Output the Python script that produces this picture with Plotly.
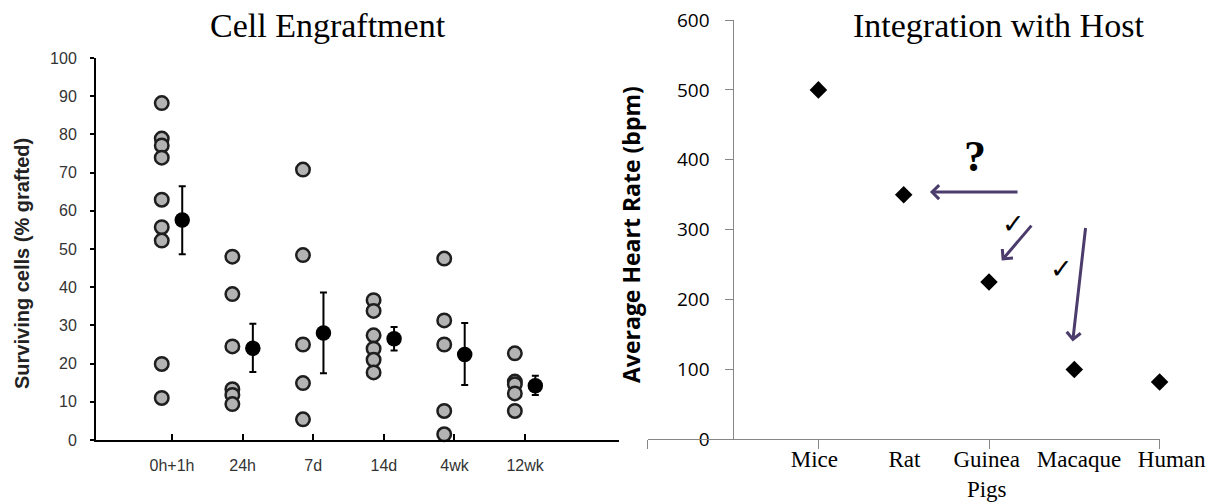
import plotly.graph_objects as go

W, H = 1214, 502

# ---------------- Left panel data: Cell Engraftment ----------------
timepoints = ["0h+1h", "24h", "7d", "14d", "4wk", "12wk"]
surv_0h1h = [88.2, 78.9, 77.1, 73.9, 62.9, 55.7, 52.2, 19.9, 11.0]
surv_24h = [48.0, 38.2, 24.5, 13.3, 11.8, 9.4]
surv_7d = [70.8, 48.4, 25.0, 14.9, 5.4]
surv_14d = [36.6, 33.8, 27.4, 23.9, 21.0, 17.7]
surv_4wk = [47.5, 31.3, 25.0, 7.6, 1.5]
surv_12wk = [22.7, 15.3, 14.6, 12.2, 7.6]
mean_surv = [57.6, 24.0, 28.0, 26.5, 22.4, 14.2]
err_plus = [8.8, 6.4, 10.6, 3.1, 8.2, 2.6]
err_minus = [9.0, 6.2, 10.5, 3.1, 8.0, 2.4]
y_ticks_left = [0, 10, 20, 30, 40, 50, 60, 70, 80, 90, 100]

# ---------------- Right panel data: Integration with Host ----------------
species = ["Mice", "Rat", "Guinea<br>Pigs", "Macaque", "Human"]
species_x = [1, 2, 3, 4, 5]
heart_rate = [500, 350, 225, 100, 82]
y_ticks_right = [0, 100, 200, 300, 400, 500, 600]
x_ticks_right = [-1, 1, 3, 5]


def px(p):
    return p / W


def py(p):
    return 1 - p / H


groups = [surv_0h1h, surv_24h, surv_7d, surv_14d, surv_4wk, surv_12wk]
off = 0.145
cx, cy = [], []
for i, vals in enumerate(groups):
    cx += [i - off] * len(vals)
    cy += vals

fig = go.Figure()

fig.add_trace(go.Scatter(
    x=cx, y=cy, mode="markers", xaxis="x", yaxis="y", cliponaxis=False,
    marker=dict(symbol="circle", size=13.5, color="#b3b3b3",
                line=dict(color="#1e1e1e", width=2.5)),
    showlegend=False, hoverinfo="skip"))

fig.add_trace(go.Scatter(
    x=[i + off for i in range(len(timepoints))], y=mean_surv, mode="markers",
    xaxis="x", yaxis="y", cliponaxis=False,
    marker=dict(symbol="circle", size=15.5, color="black", line=dict(width=0)),
    error_y=dict(type="data", symmetric=False, array=err_plus, arrayminus=err_minus,
                 color="black", thickness=2, width=3.5),
    showlegend=False, hoverinfo="skip"))

fig.add_trace(go.Scatter(
    x=species_x, y=heart_rate, mode="markers", xaxis="x2", yaxis="y2",
    cliponaxis=False,
    marker=dict(symbol="diamond", size=13.5, color="black", line=dict(width=0)),
    showlegend=False, hoverinfo="skip"))

# invisible trace to keep the line axis alive
fig.add_trace(go.Scatter(x=[None], y=[None], xaxis="x3", yaxis="y2",
                         showlegend=False, hoverinfo="skip"))

label_pos = [0.952, 2.009, 2.973, 4.055, 5.141]

fig.update_layout(
    template="none",
    width=W, height=H,
    margin=dict(l=0, r=0, t=0, b=0, pad=0, autoexpand=False),
    paper_bgcolor="white", plot_bgcolor="rgba(0,0,0,0)",
    xaxis=dict(domain=[px(96), px(619)], range=[-1.076, 6.33], anchor="y",
               automargin=False,
               tickvals=list(range(len(timepoints))), ticktext=timepoints,
               ticks="inside", ticklen=6, tickwidth=2, tickcolor="black",
               showline=True, linecolor="black", linewidth=2,
               showgrid=False, zeroline=False, ticklabelstandoff=10,
               tickfont=dict(family="Liberation Sans", size=16, color="#333")),
    yaxis=dict(domain=[py(440), py(58)], range=[0, 100], anchor="x",
               automargin=False,
               tickvals=y_ticks_left, ticks="outside", ticklen=4, tickwidth=2,
               tickcolor="black", showline=True, linecolor="black", linewidth=2,
               showgrid=False, zeroline=False, ticklabelstandoff=10,
               tickfont=dict(family="Liberation Sans", size=16, color="#333")),
    xaxis2=dict(domain=[px(647.8), 1.0], range=[-1, -1 + (W - 647.8) / 85.3],
                anchor="y2", automargin=False,
                tickvals=label_pos, ticktext=species, ticks="",
                showline=False, showgrid=False, zeroline=False,
                ticklabelstandoff=4,
                tickfont=dict(family="Liberation Serif", size=23, color="black")),
    xaxis3=dict(domain=[px(647.8), px(1159.6)], range=[-1, 5], anchor="y2",
                automargin=False, tickvals=x_ticks_right, ticks="outside",
                ticklen=9, tickcolor="#868686", tickwidth=1,
                showline=True, linecolor="#868686", linewidth=1,
                showgrid=False, zeroline=False, showticklabels=False),
    yaxis2=dict(domain=[py(439.3), py(20)], range=[0, 600], anchor="free",
                position=px(733.3), automargin=False,
                tickvals=y_ticks_right, ticks="outside",
                ticklen=8, tickcolor="#868686", tickwidth=1,
                showline=True, linecolor="#868686", linewidth=1,
                showgrid=False, zeroline=False, ticklabelstandoff=12,
                tickfont=dict(family="Open Sans", size=19, color="black")),
)

ann = []


def add_text(text, x, y, size, family, color="black", xref="paper", yref="paper", angle=0):
    ann.append(dict(text=text, x=x, y=y, xref=xref, yref=yref, textangle=angle,
                    xanchor="center", yanchor="middle", showarrow=False,
                    font=dict(family=family, size=size, color=color)))


add_text("Cell Engraftment", px(328), py(26), 34, "Liberation Serif")
add_text("Integration with Host", px(998), py(26), 34, "Liberation Serif")
add_text("<b>Surviving cells (% grafted)</b>", px(22), py(264), 20, "Liberation Sans",
         color="#222", angle=-90)
add_text("<b>Average Heart Rate (bpm)</b>", px(631), py(235), 23, "Open Sans", angle=-90)

arrow_color = "#4b3c6c"
arrows = [((2.308, 353.7), (3.352, 353.7)),
          ((3.149, 255.8), (3.512, 307.9)),
          ((3.981, 139.8), (4.134, 304.5))]
for (tx, ty), (sx, sy) in arrows:
    ann.append(dict(text="", x=tx, y=ty, xref="x3", yref="y2",
                    ax=sx, ay=sy, axref="x3", ayref="y2", showarrow=True,
                    arrowhead=4, arrowsize=0.9, arrowwidth=3, arrowcolor=arrow_color,
                    standoff=0, startstandoff=0))

add_text("<b>?</b>", 2.836, 404.7, 44, "Liberation Serif", xref="x3", yref="y2")
add_text("✓", 3.285, 309.3, 27, "DejaVu Sans", xref="x3", yref="y2")
add_text("✓", 3.852, 243.9, 27, "DejaVu Sans", xref="x3", yref="y2")

fig.update_layout(annotations=ann)

fig.write_html("out.html", config={"displayModeBar": False},
               post_script="document.body.style.margin='0';document.body.style.overflow='hidden';")
